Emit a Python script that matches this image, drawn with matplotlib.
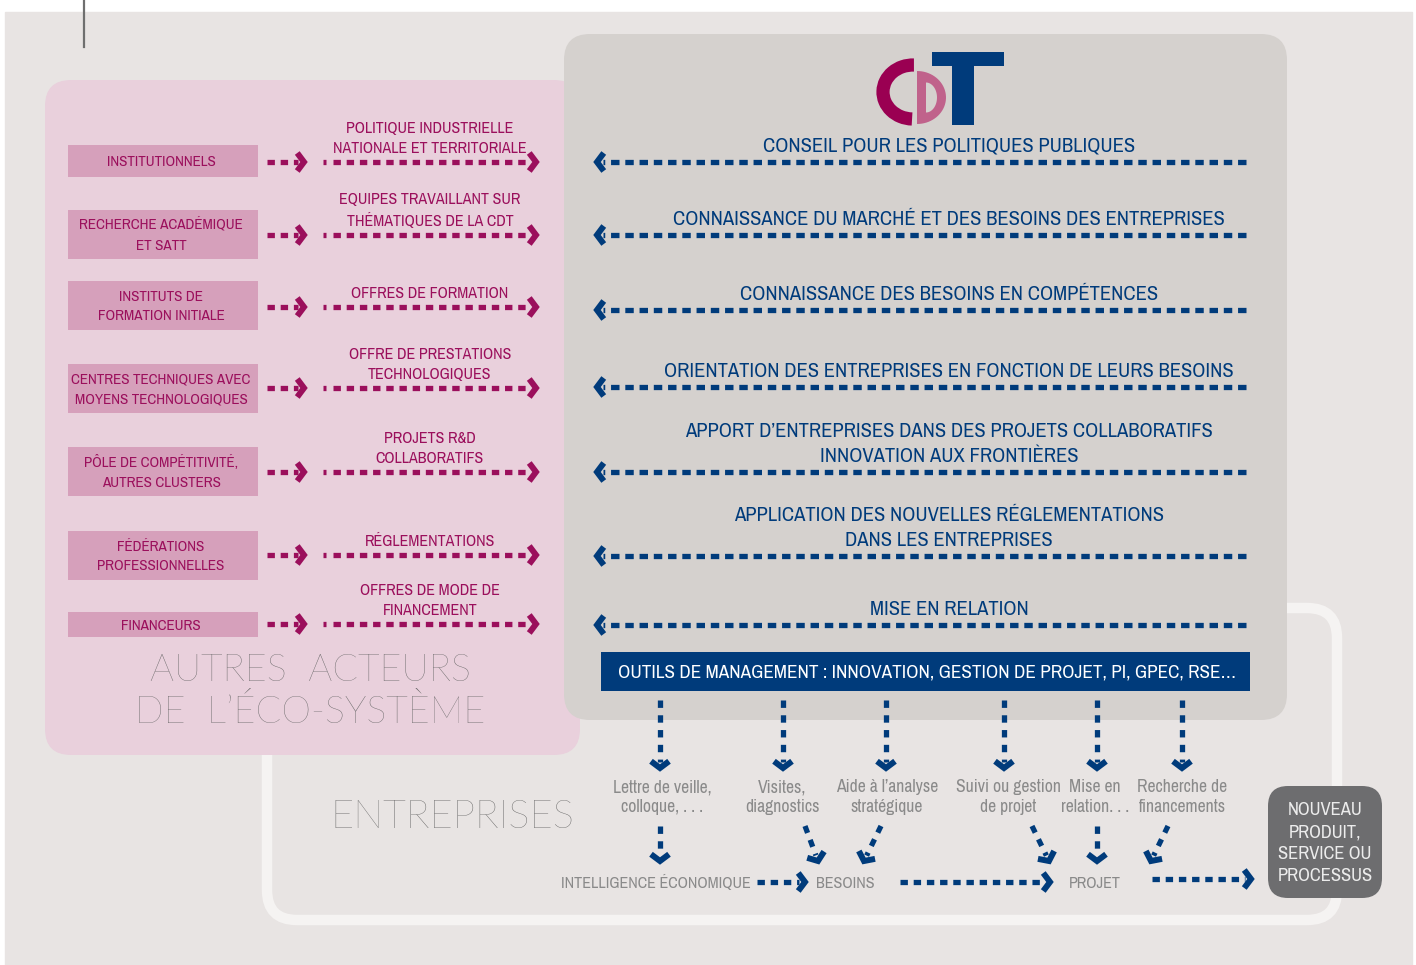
import matplotlib
matplotlib.use("Agg")
import matplotlib.pyplot as plt
import matplotlib.font_manager as fm
from matplotlib.textpath import TextPath
import numpy as np
from matplotlib.patches import Rectangle, FancyBboxPatch, Arc, PathPatch
from matplotlib.path import Path

# ---- texts of the diagram ----
acteurs = ["INSTITUTIONNELS", "RECHERCHE ACADÉMIQUE\nET SATT", "INSTITUTS DE\nFORMATION INITIALE",
           "CENTRES TECHNIQUES AVEC\nMOYENS TECHNOLOGIQUES", "PÔLE DE COMPÉTITIVITÉ,\nAUTRES CLUSTERS",
           "FÉDÉRATIONS\nPROFESSIONNELLES", "FINANCEURS"]
apports = ["POLITIQUE INDUSTRIELLE\nNATIONALE ET TERRITORIALE", "EQUIPES TRAVAILLANT SUR\nTHÉMATIQUES DE LA CDT",
           "OFFRES DE FORMATION", "OFFRE DE PRESTATIONS\nTECHNOLOGIQUES", "PROJETS R&D\nCOLLABORATIFS",
           "RÉGLEMENTATIONS", "OFFRES DE MODE DE\nFINANCEMENT"]
retours = ["CONSEIL POUR LES POLITIQUES PUBLIQUES", "CONNAISSANCE DU MARCHÉ ET DES BESOINS DES ENTREPRISES",
           "CONNAISSANCE DES BESOINS EN COMPÉTENCES", "ORIENTATION DES ENTREPRISES EN FONCTION DE LEURS BESOINS",
           "APPORT D’ENTREPRISES DANS DES PROJETS COLLABORATIFS\nINNOVATION AUX FRONTIÈRES",
           "APPLICATION DES NOUVELLES RÉGLEMENTATIONS\nDANS LES ENTREPRISES", "MISE EN RELATION"]
outils_titre = "OUTILS DE MANAGEMENT : INNOVATION, GESTION DE PROJET, PI, GPEC, RSE…"
outils = ["Lettre de veille,\ncolloque, . . .", "Visites,\ndiagnostics", "Aide à l’analyse\nstratégique",
          "Suivi ou gestion\nde projet", "Mise en\nrelation. . .", "Recherche de\nfinancements"]
etapes = ["INTELLIGENCE ÉCONOMIQUE", "BESOINS", "PROJET"]
resultat = "NOUVEAU\nPRODUIT,\nSERVICE OU\nPROCESSUS"
titre_acteurs = "AUTRES  ACTEURS\nDE  L’ÉCO-SYSTÈME"
titre_entreprises = "ENTREPRISES"

# ---- layout (pixels) ----
row_y = [162, 235, 307, 388, 472, 555, 624]
box_top = [145, 210, 281, 364, 447, 531, 612]
box_bot = [177, 259, 330, 413, 496, 580, 637]
blue_y = [162, 235, 310, 387, 472, 556, 625]
outil_x = [660, 783, 886, 1004, 1097, 1182]
outil_lx = [662, 782, 887, 1008, 1095, 1182]
etape_x = [656, 845, 1095]

MAG = "#9b0f5c"
MAUVE = "#d6a0bb"
PINK = "#e9d0dc"
GREY_BOX = "#d5d1ce"
BG = "#e8e4e3"
BLUE = "#003b7b"
TXT_GREY = "#8a8a8a"


def pick_narrow():
    best, score = None, 99
    for f in fm.fontManager.ttflist:
        name = f.name.lower()
        fn = f.fname.lower().split("/")[-1]
        if f.style != "normal" or f.weight not in (400, "normal", "regular"):
            continue
        if "italic" in fn or "bold" in fn or "light" in fn or "medium" in fn or "thin" in fn:
            continue
        if "narrow" in name or "narrow" in fn:
            s = 1
        elif "condensed" in fn or "condensed" in name:
            s = 2
        else:
            continue
        if s < score:
            best, score = f.fname, s
    if best:
        return fm.FontProperties(fname=best)
    return fm.FontProperties(family="DejaVu Sans")


NARROW = pick_narrow()
LIGHT = fm.FontProperties(family=["Lato", "DejaVu Sans"], weight="light")


def fit(s, px, fp):
    # font size (pt) so that string s is px pixels wide
    w = TextPath((0, 0), s, size=10, prop=fp).get_extents().width
    return 10 * px / (w * 100 / 72)


FS_LAB = fit("CENTRES TECHNIQUES AVEC", 180, NARROW)
FS_MAG = fit("NATIONALE ET TERRITORIALE", 185, NARROW) * 1.04
FS_BLUE = fit("CONSEIL POUR LES POLITIQUES PUBLIQUES", 336, NARROW) * 1.1
FS_BAR = fit(outils_titre, 614, NARROW)
FS_TOOL = fit("Suivi ou gestion", 98, NARROW) * 1.05
FS_STEP = fit("INTELLIGENCE ÉCONOMIQUE", 182, NARROW) * 1.04
FS_RES = fit("SERVICE OU", 92, NARROW)
FS_BIG = fit("DE  L’ÉCO-SYSTÈME", 344, LIGHT)
FS_ENT = fit(titre_entreprises, 237, LIGHT)

fig = plt.figure(figsize=(14.16, 9.65), dpi=100)
fig.patch.set_facecolor("white")
ax = fig.add_axes([0, 0, 1, 1])
ax.set_xlim(0, 1416)
ax.set_ylim(965, 0)
ax.axis("off")
renderer = fig.canvas.get_renderer()


def ls_for(pitch, fs, fp):
    # linespacing giving a line pitch of about `pitch` pixels
    p = fp.copy()
    p.set_size(fs)
    w, h, d = renderer.get_text_width_height_descent("lp", p, ismath=False)
    return pitch / (h - d) / 1.17


def chevron(x, y, ang, color, size=9, lw=4.3):
    d = np.array([np.cos(np.radians(ang)), np.sin(np.radians(ang))])
    n = np.array([-d[1], d[0]])
    tip = np.array([x, y])
    p1 = tip - size * 0.75 * d + size * n
    p2 = tip - size * 0.75 * d - size * n
    ax.plot([p1[0], tip[0], p2[0]], [p1[1], tip[1], p2[1]], color=color, lw=lw,
            solid_joinstyle="miter", solid_capstyle="butt", zorder=5)


def arrow(x0, y0, x1, y1, color, lw=3.8, dash=(1.4, 1.1)):
    d = np.array([x1 - x0, y1 - y0], float)
    d /= np.hypot(*d)
    ang = np.degrees(np.arctan2(d[1], d[0]))
    ex, ey = x1 - 6 * d[0], y1 - 6 * d[1]
    ax.plot([x0, ex], [y0, ey], color=color, lw=lw, dashes=dash,
            solid_capstyle="butt", dash_capstyle="butt", zorder=5)
    chevron(x1, y1, ang, color)


# background
ax.add_patch(Rectangle((5, 12), 1407, 953, color=BG, zorder=0))
ax.plot([84, 84], [0, 47], color="#6f6f6f", lw=1.6, zorder=1)

# outline of the entreprises area
ax.add_patch(FancyBboxPatch((267, 608), 1070, 312, boxstyle="round,pad=0,rounding_size=30",
                            fc="none", ec="#f5f3f2", lw=7.5, zorder=1))

# pink panel
ax.add_patch(FancyBboxPatch((45, 80), 535, 675, boxstyle="round,pad=0,rounding_size=26",
                            fc=PINK, ec="none", zorder=2))
# grey panel
ax.add_patch(FancyBboxPatch((564, 34), 723, 686, boxstyle="round,pad=0,rounding_size=26",
                            fc=GREY_BOX, ec="none", zorder=3))

# left side
LS_LAB = ls_for(19.5, FS_LAB, NARROW)
LS_MAG = ls_for(20, FS_MAG, NARROW)
for i, lab in enumerate(acteurs):
    ax.add_patch(Rectangle((68, box_top[i]), 190, box_bot[i] - box_top[i], fc=MAUVE, ec="none", zorder=4))
    ax.text(161, (box_top[i] + box_bot[i]) / 2 + 1, lab, ha="center", va="center", color=MAG,
            fontsize=FS_LAB, fontproperties=NARROW, linespacing=LS_LAB, zorder=6)
    y = row_y[i]
    arrow(267, y, 304, y, MAG)
    ax.plot([323, 326], [y, y], color=MAG, lw=3.8, solid_capstyle="butt", zorder=5)
    arrow(333, y, 536, y, MAG)
    ax.text(430, y - 6, apports[i], ha="center", va="bottom", color=MAG,
            fontsize=FS_MAG, fontproperties=NARROW, linespacing=LS_MAG, zorder=6)

ax.text(310, 692, titre_acteurs, ha="center", va="center", color="#626262", fontsize=FS_BIG,
        fontproperties=LIGHT, linespacing=ls_for(40, FS_BIG, LIGHT), zorder=6)

# CDT logo
ax.add_patch(Arc((913, 92), 60, 54, theta1=92, theta2=272, color="#9a0052", lw=9.5, zorder=6))
t = np.linspace(-np.pi / 2, np.pi / 2, 40)
outer = np.column_stack([917 + 29 * np.cos(t), 97.5 + 26.5 * np.sin(t)])
inner = np.column_stack([926 + 11 * np.cos(t[::-1]), 97.5 + 15 * np.sin(t[::-1])])
outer = np.vstack([[917, 124], outer[::-1], [917, 71], [917, 124]])
inner = np.vstack([[926, 82.5], inner[::-1], [926, 112.5], [926, 82.5]])
verts = np.vstack([outer, inner])
codes = ([Path.MOVETO] + [Path.LINETO] * (len(outer) - 2) + [Path.CLOSEPOLY] +
         [Path.MOVETO] + [Path.LINETO] * (len(inner) - 2) + [Path.CLOSEPOLY])
ax.add_patch(PathPatch(Path(verts, codes), fc="#c0628b", ec="none", zorder=6))
ax.add_patch(Rectangle((932, 52), 72, 14, fc=BLUE, ec="none", zorder=7))
ax.add_patch(Rectangle((952, 52), 22, 73, fc=BLUE, ec="none", zorder=7))

# right side
LS_BLUE = ls_for(24, FS_BLUE, NARROW)
for i, lab in enumerate(retours):
    y = blue_y[i]
    arrow(1246, y, 597, y, BLUE, dash=(1.6, 1.1))
    ax.text(949, y - 6, lab, ha="center", va="bottom", color=BLUE,
            fontsize=FS_BLUE, fontproperties=NARROW, linespacing=LS_BLUE, zorder=6)

ax.add_patch(Rectangle((601, 652), 649, 39, fc=BLUE, ec="none", zorder=6))
ax.text(927, 673, outils_titre, ha="center", va="center", color="white",
        fontsize=FS_BAR, fontproperties=NARROW, zorder=7)

# tools
LS_TOOL = ls_for(19, FS_TOOL, NARROW)
for i, lab in enumerate(outils):
    arrow(outil_x[i], 700, outil_x[i], 768, BLUE, dash=(1.4, 1.4))
    ax.text(outil_lx[i], 797, lab, ha="center", va="center", color=TXT_GREY,
            fontsize=FS_TOOL, fontproperties=NARROW, linespacing=LS_TOOL, zorder=6)

arrow(660, 826, 660, 861, BLUE, dash=(1.4, 1.4))
arrow(805, 826, 818, 861, BLUE, dash=(1.4, 1.4))
arrow(881, 826, 864, 861, BLUE, dash=(1.4, 1.4))
arrow(1032, 826, 1049, 861, BLUE, dash=(1.4, 1.4))
arrow(1097, 826, 1097, 861, BLUE, dash=(1.4, 1.4))
arrow(1168, 826, 1151, 861, BLUE, dash=(1.4, 1.4))

for i, lab in enumerate(etapes):
    ax.text(etape_x[i], 883, lab, ha="center", va="center", color=TXT_GREY,
            fontsize=FS_STEP, fontproperties=NARROW, zorder=6)
arrow(757, 882, 805, 882, BLUE)
arrow(900, 882, 1050, 882, BLUE)
arrow(1152, 879, 1251, 879, BLUE)

ax.add_patch(FancyBboxPatch((1268, 786), 114, 112, boxstyle="round,pad=0,rounding_size=20",
                            fc="#6d6d6f", ec="none", zorder=6))
ax.text(1325, 843, resultat, ha="center", va="center", color="#ececec", fontsize=FS_RES,
        fontproperties=NARROW, linespacing=ls_for(22, FS_RES, NARROW), zorder=7)

ax.text(452, 817, titre_entreprises, ha="center", va="center", color="#626262", fontsize=FS_ENT,
        fontproperties=LIGHT, zorder=6)

fig.savefig("out.png", dpi=100, facecolor="white")
